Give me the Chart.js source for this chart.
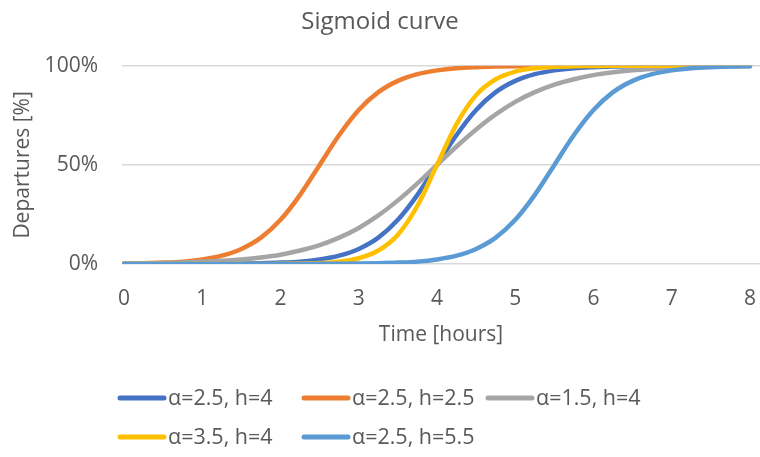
<!DOCTYPE html>
<html>
<head>
<meta charset="utf-8">
<script src="https://cdn.jsdelivr.net/npm/chart.js@4.4.0/dist/chart.umd.min.js"></script>
<style>
  html, body { margin: 0; padding: 0; background: #ffffff; }
</style>
</head>
<body>
<canvas id="chart" width="760" height="457"></canvas>
<script>
// time axis (hours)
var hours = [0, 0.25, 0.5, 0.75, 1, 1.25, 1.5, 1.75, 2, 2.25, 2.5, 2.75, 3, 3.25, 3.5, 3.75,
  4, 4.25, 4.5, 4.75, 5, 5.25, 5.5, 5.75, 6, 6.25, 6.5, 6.75, 7, 7.25, 7.5, 7.75, 8];

var seriesNames = ['α=2.5, h=4', 'α=2.5, h=2.5', 'α=1.5, h=4', 'α=3.5, h=4', 'α=2.5, h=5.5'];
var seriesColors = ['#4472C4', '#ED7D31', '#A5A5A5', '#FFC000', '#5B9BD5'];

// departures [%]
var a25h4 = [0, 0, 0, 0, 0.1, 0.1, 0.2, 0.4, 0.7, 1.2, 2.3, 4.2, 7.6, 13.3, 22.3, 34.9,
  50, 65.1, 77.7, 86.7, 92.4, 95.8, 97.7, 98.8, 99.3, 99.6, 99.8, 99.9, 99.9, 100, 100, 100, 100];
var a25h25 = [0.2, 0.4, 0.7, 1.2, 2.3, 4.2, 7.6, 13.3, 22.3, 34.9, 50, 65.1, 77.7, 86.7, 92.4, 95.8,
  97.7, 98.8, 99.3, 99.6, 99.8, 99.9, 99.9, 100, 100, 100, 100, 100, 100, 100, 100, 100, 100];
var a15h4 = [0.2, 0.4, 0.5, 0.8, 1.1, 1.6, 2.3, 3.3, 4.7, 6.8, 9.5, 13.3, 18.2, 24.5, 32.1, 40.7,
  50, 59.3, 67.9, 75.5, 81.8, 86.7, 90.5, 93.2, 95.3, 96.7, 97.7, 98.4, 98.9, 99.2, 99.5, 99.6, 99.8];
var a35h4 = [0, 0, 0, 0, 0, 0, 0, 0, 0.1, 0.2, 0.5, 1.2, 2.9, 6.8, 14.8, 29.4,
  50, 70.6, 85.2, 93.2, 97.1, 98.8, 99.5, 99.8, 99.9, 100, 100, 100, 100, 100, 100, 100, 100];
var a25h55 = [0, 0, 0, 0, 0, 0, 0, 0, 0, 0, 0.1, 0.1, 0.2, 0.4, 0.7, 1.2,
  2.3, 4.2, 7.6, 13.3, 22.3, 34.9, 50, 65.1, 77.7, 86.7, 92.4, 95.8, 97.7, 98.8, 99.3, 99.6, 99.8];

var seriesValues = [a25h4, a25h25, a15h4, a35h4, a25h55];

var yTicks = [0, 50, 100];
var xTicks = [0, 1, 2, 3, 4, 5, 6, 7, 8];

var FONT = '"Open Sans", "Noto Sans", sans-serif';
var TEXT = '#595959';

function toPoints(values) {
  return values.map(function (v, i) {
    return { x: hours[i], y: v };
  });
}

var datasets = seriesValues.map(function (vals, i) {
  return {
    label: seriesNames[i],
    data: toPoints(vals),
    borderColor: seriesColors[i],
    backgroundColor: seriesColors[i],
    borderWidth: 4.5,
    borderCapStyle: 'round',
    borderJoinStyle: 'round',
    pointRadius: 0,
    cubicInterpolationMode: 'monotone',
    fill: false,
    order: seriesValues.length - i
  };
});

// excel-like legend: fixed columns, rows left aligned
var gridLegend = {
  id: 'gridLegend',
  afterDraw: function (chart) {
    var ctx = chart.ctx;
    ctx.save();
    ctx.font = '21.5px ' + FONT;
    ctx.textBaseline = 'middle';
    ctx.textAlign = 'left';
    chart.data.datasets.forEach(function (ds, i) {
      var col = i % 3;
      var row = Math.floor(i / 3);
      var x = 118 + col * 184;
      var y = 398 + row * 39;
      ctx.strokeStyle = ds.borderColor;
      ctx.lineWidth = 5;
      ctx.lineCap = 'round';
      ctx.beginPath();
      ctx.moveTo(x + 2, y);
      ctx.lineTo(x + 46, y);
      ctx.stroke();
      ctx.fillStyle = TEXT;
      ctx.fillText(ds.label, x + 50, y + 1);
    });
    ctx.restore();
  }
};

new Chart(document.getElementById('chart'), {
  type: 'line',
  data: { datasets: datasets },
  options: {
    responsive: false,
    animation: false,
    layout: { padding: { left: 0, right: 0, top: 0, bottom: 103 } },
    plugins: {
      legend: { display: false },
      tooltip: { enabled: false },
      title: {
        display: true,
        text: 'Sigmoid curve',
        color: TEXT,
        font: { family: FONT, size: 24, weight: 'normal' },
        padding: { top: 8, bottom: 29 }
      }
    },
    scales: {
      x: {
        type: 'linear',
        min: -0.026,
        max: 8.128,
        afterFit: function (s) {
          s.height = 90;
          s.paddingLeft = 0;
          s.paddingRight = 0;
        },
        afterBuildTicks: function (s) {
          s.ticks = xTicks.map(function (v) { return { value: v }; });
        },
        grid: { display: false, drawTicks: false },
        border: { display: false },
        ticks: {
          color: TEXT,
          padding: 22,
          maxRotation: 0,
          font: { family: FONT, size: 21 }
        },
        title: {
          display: true,
          text: 'Time [hours]',
          color: TEXT,
          font: { family: FONT, size: 21 },
          padding: { top: 0, bottom: 6 }
        }
      },
      y: {
        min: 0,
        max: 100,
        afterFit: function (s) { s.width = 122; },
        afterBuildTicks: function (s) {
          s.ticks = yTicks.map(function (v) { return { value: v }; });
        },
        grid: { color: '#d9d9d9', lineWidth: 1.5, drawTicks: false },
        border: { display: false },
        ticks: {
          color: TEXT,
          padding: 24,
          font: { family: FONT, size: 21 },
          callback: function (v) { return v + '%'; }
        },
        title: {
          display: true,
          text: 'Departures [%]',
          color: TEXT,
          font: { family: FONT, size: 21 },
          padding: { top: 10, bottom: 0 }
        }
      }
    }
  },
  plugins: [gridLegend]
});
</script>
</body>
</html>
